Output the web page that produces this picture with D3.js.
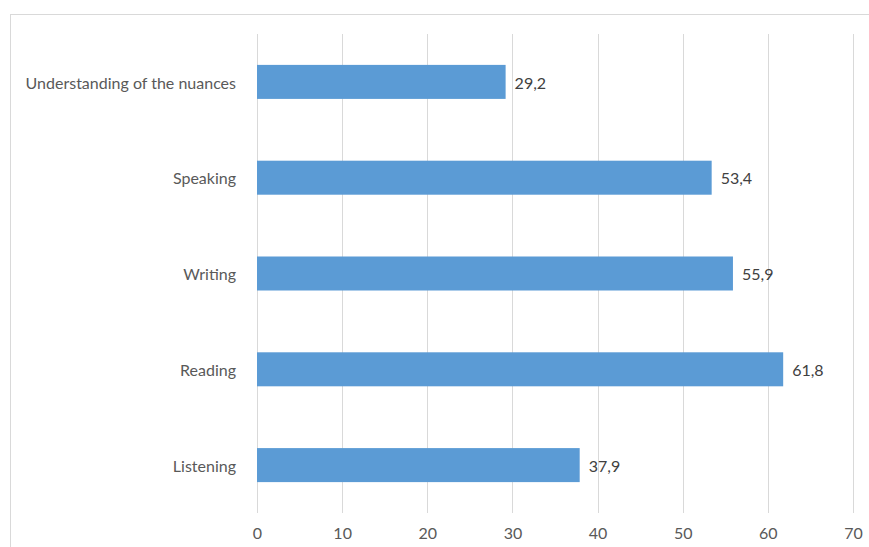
<!DOCTYPE html>
<html>
<head>
<meta charset="utf-8">
<script src="https://cdn.jsdelivr.net/npm/d3@7"></script>
<style>
  html, body { margin: 0; padding: 0; background: #fff; }
  svg { display: block; font-family: Lato, "Open Sans", sans-serif; }
</style>
</head>
<body>
<div id="chart"></div>
<script>
// categories top to bottom, as drawn
const categories = ['Understanding of the nuances', 'Speaking', 'Writing', 'Reading', 'Listening'];
const values = [29.2, 53.4, 55.9, 61.8, 37.9];
const xTicks = [0, 10, 20, 30, 40, 50, 60, 70];

const W = 869, H = 547;
const margin = { top: 34, right: 16, bottom: 34, left: 257 };
const width = 853 - margin.left;
const height = 513 - margin.top;
const fontSize = '16px';
const fontFamily = 'Lato, "Open Sans", sans-serif';

const svg = d3.select('#chart').append('svg')
  .attr('width', W)
  .attr('height', H);

// chart frame (runs off the right and bottom edges)
svg.append('rect')
  .attr('x', 10.5).attr('y', 14.5)
  .attr('width', W + 10).attr('height', H + 10)
  .attr('fill', 'none')
  .attr('stroke', '#d9d9d9')
  .attr('stroke-width', 1);

const g = svg.append('g').attr('transform', `translate(${margin.left},${margin.top})`);

const x = d3.scaleLinear().domain([0, 70]).range([0, width]);
const y = d3.scaleBand().domain(categories).range([0, height]).paddingInner(0.645).paddingOuter(0.3225);

// gridlines
g.append('g')
  .selectAll('line')
  .data(xTicks)
  .join('line')
  .attr('x1', d => Math.round(x(d)) + 0.5)
  .attr('x2', d => Math.round(x(d)) + 0.5)
  .attr('y1', 0)
  .attr('y2', height)
  .attr('stroke', '#d9d9d9')
  .attr('stroke-width', 1);

// x axis labels
g.append('g')
  .attr('transform', `translate(0,${height})`)
  .call(d3.axisBottom(x).tickValues(xTicks).tickSize(0).tickPadding(15).tickFormat(d3.format('d')))
  .attr('font-family', fontFamily)
  .call(ax => ax.select('.domain').remove())
  .call(ax => ax.selectAll('.tick text').attr('fill', '#595959').attr('font-size', fontSize));

// y axis labels
g.append('g')
  .call(d3.axisLeft(y).tickSize(0).tickPadding(21))
  .attr('font-family', fontFamily)
  .call(ax => ax.select('.domain').remove())
  .call(ax => ax.selectAll('.tick text').attr('fill', '#595959').attr('font-size', fontSize).attr('dy', '0.42em'));

const data = categories.map((c, i) => ({ cat: c, value: values[i] }));

g.append('g')
  .selectAll('rect')
  .data(data)
  .join('rect')
  .attr('x', x(0))
  .attr('y', d => y(d.cat))
  .attr('width', d => x(d.value) - x(0))
  .attr('height', y.bandwidth())
  .attr('fill', '#5b9bd5');

const fmt = v => d3.format('.1f')(v).replace('.', ',');

g.append('g')
  .selectAll('text')
  .data(data)
  .join('text')
  .attr('x', d => x(d.value) + 9)
  .attr('y', d => y(d.cat) + y.bandwidth() / 2)
  .attr('dy', '0.42em')
  .attr('fill', '#404040')
  .attr('font-size', fontSize)
  .text(d => fmt(d.value));
</script>
</body>
</html>
